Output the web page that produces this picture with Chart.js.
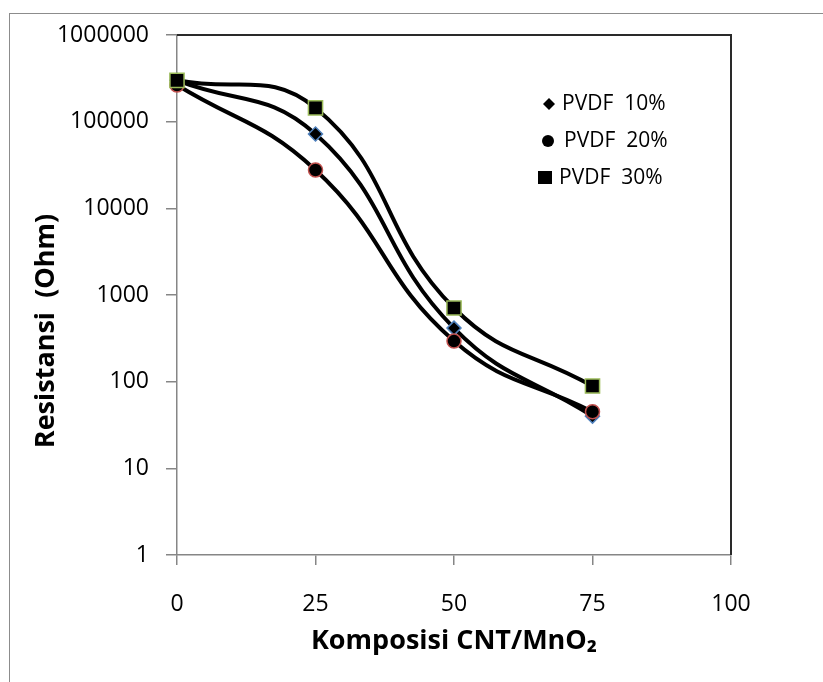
<!DOCTYPE html>
<html>
<head>
<meta charset="utf-8">
<script src="https://cdn.jsdelivr.net/npm/chart.js@4.4.1/dist/chart.umd.min.js"></script>
<style>
  html, body { margin: 0; padding: 0; background: #fff; overflow: hidden; }
  #wrap { position: relative; width: 823px; height: 682px; }
  #frame { position: absolute; left: 9px; top: 13px; width: 900px; height: 800px; border: 1px solid #8c8c8c; }
  canvas { position: absolute; left: 0; top: 0; }
</style>
</head>
<body>
<div id="wrap">
  <div id="frame"></div>
  <canvas id="chart" width="823" height="682"></canvas>
</div>
<script>
// komposisi CNT/MnO2 (sumbu x)
const komposisi = [0, 25, 50, 75];
// resistansi (Ohm) tiap seri
const pvdf10 = [300000, 72000, 415, 40];
const pvdf20 = [265000, 27700, 294, 45];
const pvdf30 = [300000, 144000, 708, 89];
const seriesNames = ["PVDF  10%", "PVDF  20%", "PVDF  30%"];
const xTicks = [0, 25, 50, 75, 100];
const yTicks = [1, 10, 100, 1000, 10000, 100000, 1000000];

const FONT = "'Open Sans', 'Liberation Sans', sans-serif";

function toPoints(vals) {
    return komposisi.map((x, i) => ({ x: x, y: vals[i] }));
}

// garis tepi atas & kanan area plot
const plotFrame = {
    id: "plotFrame",
    beforeDatasetsDraw(chart) {
        const { ctx, chartArea: a } = chart;
        ctx.save();
        ctx.strokeStyle = "#2a2a2a";
        ctx.lineWidth = 2;
        ctx.beginPath();
        ctx.moveTo(a.left, a.top);
        ctx.lineTo(a.right, a.top);
        ctx.lineTo(a.right, a.bottom);
        ctx.stroke();
        ctx.restore();
    }
};

// judul sumbu y (digeser seperti di Excel)
const yTitle = {
    id: "yTitle",
    afterDraw(chart) {
        const ctx = chart.ctx;
        ctx.save();
        ctx.translate(46, 331);
        ctx.rotate(-Math.PI / 2);
        ctx.font = "bold 27px " + FONT;
        ctx.fillStyle = "#000";
        ctx.textAlign = "center";
        ctx.textBaseline = "middle";
        ctx.fillText("Resistansi  (Ohm)", 0, 0);
        ctx.restore();
    }
};

// legenda di dalam area plot
const legendBox = {
    id: "legendBox",
    afterDraw(chart) {
        const ctx = chart.ctx;
        const rows = [
            { y: 104, mx: 549, tx: 562, style: "diamond" },
            { y: 141, mx: 548, tx: 564, style: "circle" },
            { y: 178, mx: 545, tx: 559, style: "square" }
        ];
        ctx.save();
        ctx.fillStyle = "#000";
        ctx.font = "21px " + FONT;
        ctx.textBaseline = "middle";
        rows.forEach((r, i) => {
            ctx.beginPath();
            if (r.style === "diamond") {
                ctx.moveTo(r.mx, r.y - 6);
                ctx.lineTo(r.mx + 6, r.y);
                ctx.lineTo(r.mx, r.y + 6);
                ctx.lineTo(r.mx - 6, r.y);
                ctx.closePath();
            } else if (r.style === "circle") {
                ctx.arc(r.mx, r.y, 6, 0, Math.PI * 2);
            } else {
                ctx.rect(r.mx - 7, r.y - 7, 14, 13);
            }
            ctx.fill();
            ctx.fillText(seriesNames[i], r.tx, r.y);
        });
        ctx.restore();
    }
};

const lineCommon = {
    showLine: true,
    borderColor: "#000",
    borderWidth: 4,
    tension: 0.45,
    pointBackgroundColor: "#000",
    pointBorderWidth: 1.5,
    clip: false
};

new Chart(document.getElementById("chart"), {
    type: "scatter",
    data: {
        datasets: [
            Object.assign({}, lineCommon, {
                label: seriesNames[0], data: toPoints(pvdf10), order: 2,
                pointStyle: "rectRot", pointRadius: 7, pointBorderColor: "#4f81bd"
            }),
            Object.assign({}, lineCommon, {
                label: seriesNames[1], data: toPoints(pvdf20), order: 1,
                pointStyle: "circle", pointRadius: 7, pointBorderColor: "#c0504d"
            }),
            Object.assign({}, lineCommon, {
                label: seriesNames[2], data: toPoints(pvdf30), order: 0,
                pointStyle: "rect", pointRadius: 10, pointBorderColor: "#9bbb59"
            })
        ]
    },
    options: {
        responsive: false,
        animation: false,
        layout: { padding: { left: 0, top: 35, right: 92, bottom: 0 } },
        plugins: { legend: { display: false }, tooltip: { enabled: false } },
        scales: {
            x: {
                type: "linear", min: 0, max: 100,
                afterBuildTicks: s => { s.ticks = xTicks.map(v => ({ value: v })); },
                afterFit: s => { s.height = 127; },
                grid: { drawOnChartArea: false, tickLength: 10, color: "#868686", lineWidth: 1.5 },
                border: { color: "#868686", width: 1.5 },
                ticks: { color: "#000", padding: 26, font: { family: FONT, size: 23 } },
                title: {
                    display: true, text: "Komposisi CNT/MnO₂", color: "#000",
                    padding: { top: 0, bottom: 24 },
                    font: { family: FONT, size: 27, weight: "bold" }
                }
            },
            y: {
                type: "logarithmic", min: 1, max: 1000000,
                afterBuildTicks: s => { s.ticks = yTicks.map(v => ({ value: v })); },
                afterFit: s => { s.width = 177; },
                grid: { drawOnChartArea: false, tickLength: 11, color: "#868686", lineWidth: 1.5 },
                border: { color: "#868686", width: 1.5 },
                ticks: {
                    color: "#000", padding: 17, font: { family: FONT, size: 23 },
                    callback: v => String(v)
                }
            }
        }
    },
    plugins: [plotFrame, yTitle, legendBox]
});
</script>
</body>
</html>
